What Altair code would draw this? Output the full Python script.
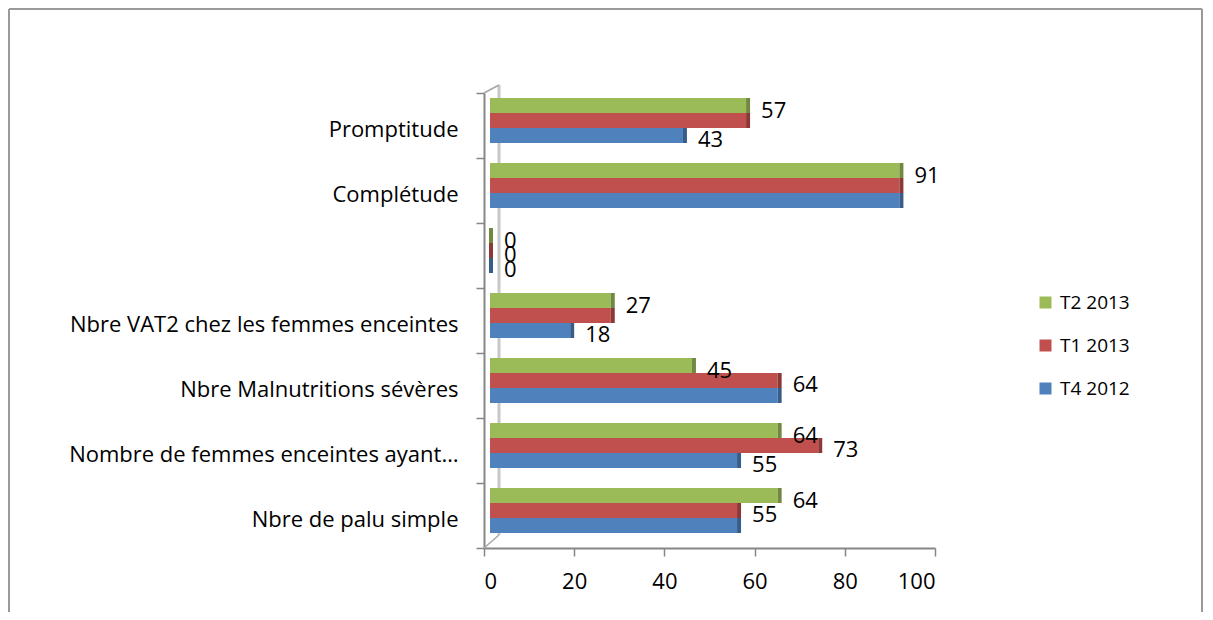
import altair as alt
import pandas as pd

# ---- data (top to bottom) ----
categories = [
    "Promptitude",
    "Complétude",
    " ",
    "Nbre VAT2 chez les femmes enceintes",
    "Nbre Malnutritions sévères",
    "Nombre de femmes enceintes ayant…",
    "Nbre de palu simple",
]
series = ["T2 2013", "T1 2013", "T4 2012"]
t2_2013 = [57, 91, 0, 27, 45, 64, 64]
t1_2013 = [57, 91, 0, 27, 64, 73, 55]
t4_2012 = [43, 91, 0, 18, 64, 55, 55]
# data labels as visible in the picture ("" = hidden behind another label)
lab_t2 = ["57", "91", "0", "27", "45", "64", "64"]
lab_t1 = ["", "", "0", "", "64", "73", "55"]
lab_t4 = ["43", "", "0", "18", "", "55", ""]
x_ticks = [0, 20, 40, 60, 80, 100]

colors = ["#9BBB59", "#C0504D", "#4F81BD"]
dark = ["#71893F", "#8C3836", "#385D8A"]

rows = []
for s, vals, labs, c, d in zip(series, [t2_2013, t1_2013, t4_2012],
                               [lab_t2, lab_t1, lab_t4], colors, dark):
    for cat, v, l in zip(categories, vals, labs):
        rows.append({"cat": cat, "series": s, "value": v, "label": l, "dark": d})
df = pd.DataFrame(rows)

FONT = "Open Sans"

y_enc = alt.Y("cat:N", sort=categories,
              scale=alt.Scale(paddingInner=0, paddingOuter=0),
              axis=alt.Axis(title=None, tickBand="extent", tickSize=8,
                            tickColor="#868686", tickWidth=1.5,
                            domainColor="#868686", domainWidth=2,
                            labelPadding=18, labelOffset=4, labelLimit=700,
                            labelFontSize=22, labelFont=FONT, labelColor="#000000"))
yoff_enc = alt.YOffset("series:N", sort=series,
                       scale=alt.Scale(paddingInner=0, paddingOuter=0.667, align=0.25))
x_scale = alt.Scale(domain=[0, 100], nice=False)
x_enc = alt.X("value:Q", scale=x_scale,
              axis=alt.Axis(title=None, values=x_ticks, grid=False, tickSize=8,
                            tickColor="#868686", tickWidth=1.5,
                            domainColor="#868686", domainWidth=2,
                            labelPadding=15, labelFontSize=22, labelFont=FONT,
                            labelColor="#000000"))

base = alt.Chart(df)
one = alt.Data(values=[{"k": 1}])

# 3D wall decorations
wall = alt.Chart(one).mark_rule(color="#C8C8C8", strokeWidth=3).encode(
    x=alt.value(15), y=alt.value(-8), y2=alt.value(442))
diag_top = alt.Chart(one).mark_rule(color="#A6A6A6", strokeWidth=1.5).encode(
    x=alt.value(0), x2=alt.value(15), y=alt.value(0), y2=alt.value(-8))
diag_bot = alt.Chart(one).mark_rule(color="#A6A6A6", strokeWidth=1.5).encode(
    x=alt.value(0), x2=alt.value(15), y=alt.value(455), y2=alt.value(442))

bars = base.mark_bar(xOffset=5, x2Offset=6).encode(
    x=x_enc,
    x2=alt.datum(0),
    y=y_enc,
    yOffset=yoff_enc,
    color=alt.Color("series:N",
                    scale=alt.Scale(domain=series, range=colors),
                    legend=alt.Legend(title=None, orient="none", legendX=552, legendY=200,
                                      symbolType="square", symbolSize=144,
                                      symbolStrokeWidth=0, labelFontSize=19,
                                      labelFont=FONT, labelColor="#000000",
                                      labelOffset=5, rowPadding=23, padding=0)),
)
side = base.mark_bar(xOffset=5, x2Offset=9).encode(
    x=alt.X("value:Q", scale=x_scale),
    x2=alt.X2("value:Q"),
    y=alt.Y("cat:N", sort=categories),
    yOffset=alt.YOffset("series:N", sort=series),
    fill=alt.Fill("dark:N", scale=None),
)
text = base.mark_text(align="left", baseline="middle", dx=20, dy=5,
                      fontSize=22, font=FONT, color="#000000").encode(
    x=alt.X("value:Q", scale=x_scale),
    y=alt.Y("cat:N", sort=categories),
    yOffset=alt.YOffset("series:N", sort=series),
    text="label:N",
)

# outer chart frame
frame_top = alt.Chart(one).mark_rule(color="#9A9A9A", strokeWidth=2).encode(
    x=alt.value(-475), x2=alt.value(718), y=alt.value(-84))
frame_left = alt.Chart(one).mark_rule(color="#9A9A9A", strokeWidth=2).encode(
    x=alt.value(-475), y=alt.value(-84), y2=alt.value(519))
frame_right = alt.Chart(one).mark_rule(color="#9A9A9A", strokeWidth=2).encode(
    x=alt.value(718), y=alt.value(-84), y2=alt.value(519))

chart = alt.layer(
    wall, diag_top, diag_bot, bars, side, text, frame_top, frame_left, frame_right
).properties(
    width=451, height=455, padding=0,
    autosize=alt.AutoSizeParams(type="pad"),
).configure(font=FONT, background="#FFFFFF").configure_view(strokeWidth=0, stroke=None)

chart.save("out.html", embed_options={"renderer": "svg", "actions": False})
